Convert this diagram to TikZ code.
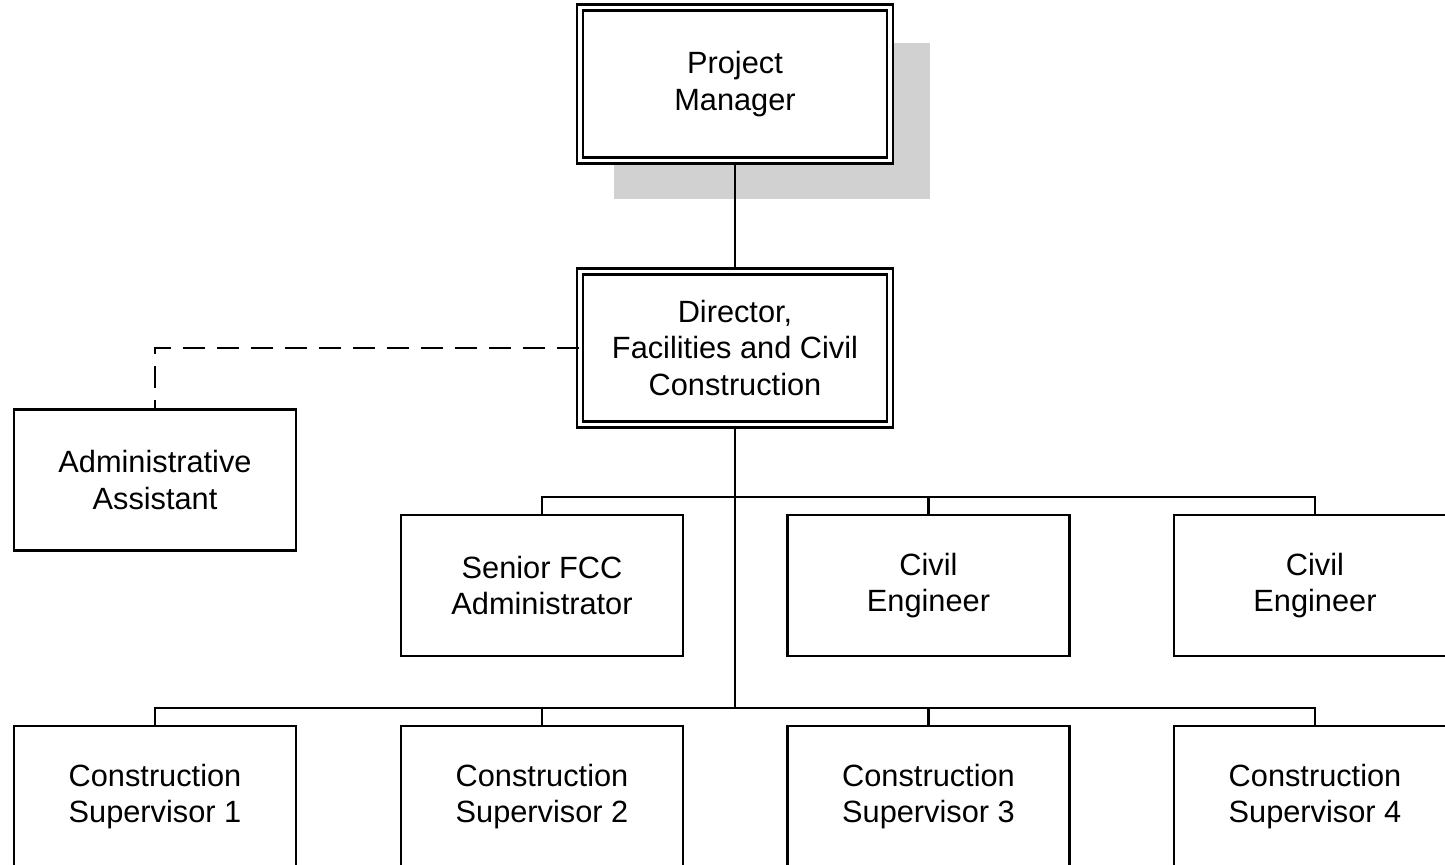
\documentclass[tikz,border=0pt]{standalone}
\usepackage{fontspec}
\setmainfont{Liberation Sans}
\usetikzlibrary{shadows}

\begin{document}
\begin{tikzpicture}[x=0.02cm, y=-0.02cm, line width=1.3pt,
    box/.style={draw, fill=white, inner sep=0pt, align=center,
        minimum width=5.64cm, minimum height=2.82cm,
        font=\fontsize{17.5}{21}\selectfont},
    headbox/.style={box, double, double distance=0.07cm,
        minimum width=6.2cm, minimum height=3.06cm},
    shadowed/.style={general shadow={fill=black!18, draw=none,
        shadow scale=1.02, shadow xshift=0.72cm, shadow yshift=-0.72cm}}]
    \clip (0,0) rectangle (1445,865);
    % top of the chart
    \node[headbox, shadowed] (pm) at (735,84) {Project\\Manager};
    \node[headbox] (dir) at (735,348) {Director,\\Facilities and Civil\\Construction};
    \node[box] (admin) at (155,480) {Administrative\\Assistant};
    % second row
    \node[box] (senior) at (542,585.5) {Senior FCC\\Administrator};
    \node[box] (civA) at (928.5,585.5) {Civil\\Engineer};
    \node[box] (civB) at (1315,585.5) {Civil\\Engineer};
    % third row
    \node[box] (sup1) at (155,796.5) {Construction\\Supervisor 1};
    \node[box] (sup2) at (542,796.5) {Construction\\Supervisor 2};
    \node[box] (sup3) at (928.5,796.5) {Construction\\Supervisor 3};
    \node[box] (sup4) at (1315,796.5) {Construction\\Supervisor 4};
    \coordinate (busA) at (735,497);
    \coordinate (busB) at (735,708);
    % connectors
    \draw (pm) -- (dir);
    \draw[dash pattern=on 0.44cm off 0.24cm] (dir.west) -| (admin.north);
    \draw (dir.south) -- (busB);
    \draw (senior.north) |- (busA) -| (civB.north);
    \draw (civA.north) -- (civA.north |- busA);
    \draw (sup1.north) |- (busB) -| (sup4.north);
    \foreach \n in {sup2,sup3}
        \draw (\n.north) -- (\n.north |- busB);
\end{tikzpicture}
\end{document}
